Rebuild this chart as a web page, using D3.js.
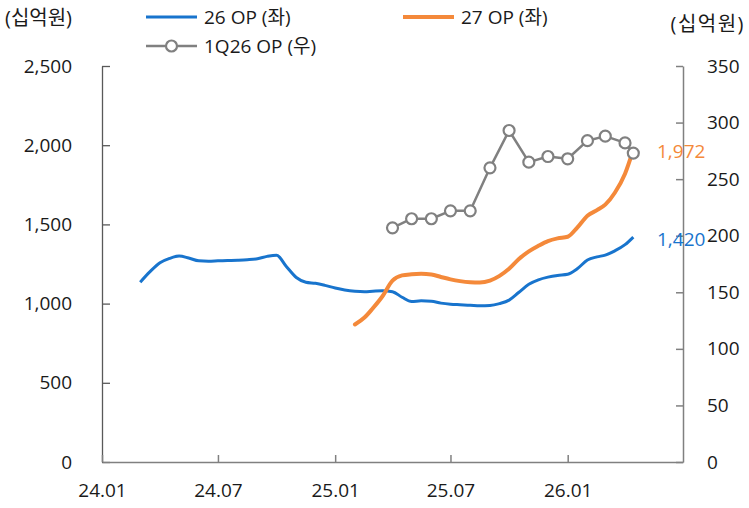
<!DOCTYPE html>
<html>
<head>
<meta charset="utf-8">
<script src="https://cdn.jsdelivr.net/npm/d3@7"></script>
<style>
  html, body { margin: 0; padding: 0; background: #fff; }
  svg { display: block; font-family: "Open Sans", "Noto Sans CJK KR", sans-serif; }
</style>
</head>
<body>
<svg id="chart" width="749" height="508"></svg>
<script>
// Operating-profit consensus, KRW bn
const op26Dates = ["2024-03-01","2024-03-16","2024-04-01","2024-04-16","2024-05-01","2024-05-16","2024-06-01","2024-06-16",
  "2024-07-01","2024-07-16","2024-08-01","2024-08-16","2024-09-01","2024-09-16","2024-10-01","2024-10-16",
  "2024-11-01","2024-11-16","2024-12-01","2024-12-16","2025-01-01","2025-01-16","2025-02-01","2025-02-16",
  "2025-03-01","2025-03-16","2025-04-01","2025-04-16","2025-05-01","2025-05-16","2025-06-01","2025-06-16",
  "2025-07-01","2025-07-16","2025-08-01","2025-08-16","2025-09-01","2025-09-16","2025-10-01","2025-10-16",
  "2025-11-01","2025-11-16","2025-12-01","2025-12-16","2026-01-01","2026-01-16","2026-02-01","2026-02-16",
  "2026-03-01","2026-03-16","2026-04-01","2026-04-14"];
const op26Values = [1135,1200,1258,1285,1300,1288,1270,1268,
  1270,1272,1274,1277,1283,1298,1306,1236,
  1165,1135,1128,1115,1098,1086,1078,1075,
  1078,1081,1075,1040,1013,1018,1015,1003,
  996,993,990,986,988,1000,1022,1070,
  1122,1150,1167,1178,1185,1220,1275,1295,
  1306,1333,1372,1420];

const op27Dates = ["2025-02-01","2025-02-16","2025-03-01","2025-03-16","2025-04-01","2025-04-16","2025-05-01","2025-05-16",
  "2025-06-01","2025-06-16","2025-07-01","2025-07-16","2025-08-01","2025-08-16","2025-09-01","2025-09-16",
  "2025-10-01","2025-10-16","2025-11-01","2025-11-16","2025-12-01","2025-12-16","2026-01-01","2026-01-16",
  "2026-02-01","2026-02-16","2026-03-01","2026-03-16","2026-04-01","2026-04-14"];
const op27Values = [868,912,970,1045,1145,1178,1185,1188,
  1184,1168,1153,1142,1135,1133,1145,1175,
  1220,1280,1330,1365,1395,1412,1422,1480,
  1555,1590,1625,1700,1820,1972];

const q126Dates = ["2025-04-01","2025-05-01","2025-06-01","2025-07-01","2025-08-01","2025-09-01","2025-10-01",
  "2025-11-01","2025-12-01","2026-01-01","2026-02-01","2026-03-01","2026-04-01","2026-04-14"];
const q126Values = [207,215,215,222,222,260,293,265,270,268,284,288,282,273];

const leftTicks = [0,500,1000,1500,2000,2500];
const rightTicks = [0,50,100,150,200,250,300,350];
const xTickDates = ["2024-01-01","2024-07-01","2025-01-01","2025-07-01","2026-01-01"];

const seriesNames = ["26 OP (좌)", "27 OP (좌)", "1Q26 OP (우)"];
const unitLabel = "(십억원)";

const BLUE = "#1874cd", ORANGE = "#f4893a", GRAY = "#808080", TEXT = "#1a1a1a";
const FONT = "'Open Sans', 'Noto Sans CJK KR', sans-serif";

const parse = d3.timeParse("%Y-%m-%d");
const svg = d3.select("#chart");

const plot = { left: 102, right: 683, top: 66, bottom: 462 };

const x = d3.scaleTime()
  .domain([parse("2024-01-01"), parse("2026-07-01")])
  .range([plot.left, plot.right]);
const yL = d3.scaleLinear().domain([0, 2500]).range([plot.bottom, plot.top]);
const yR = d3.scaleLinear().domain([0, 350]).range([plot.bottom, plot.top]);

const fontSize = 19;

function styleTicks(g, color, width) {
  g.select(".domain").attr("stroke", color).attr("stroke-width", width);
  g.selectAll(".tick line").attr("stroke", color).attr("stroke-width", width);
  g.selectAll(".tick text").attr("fill", TEXT).style("font-size", fontSize + "px")
    .style("font-family", FONT);
}

// Left axis (ticks point inward)
const gL = svg.append("g").attr("transform", `translate(${plot.left},0)`)
  .call(d3.axisLeft(yL).tickValues(leftTicks).tickSizeInner(-8).tickSizeOuter(0)
    .tickPadding(30).tickFormat(d3.format(",")));
styleTicks(gL, "#595959", 1.3);

// Right axis
const gR = svg.append("g").attr("transform", `translate(${plot.right},0)`)
  .call(d3.axisRight(yR).tickValues(rightTicks).tickSizeInner(-7).tickSizeOuter(0)
    .tickPadding(24));
styleTicks(gR, "#808080", 1.5);

// Bottom axis
const gX = svg.append("g").attr("transform", `translate(0,${plot.bottom})`)
  .call(d3.axisBottom(x).tickValues(xTickDates.map(parse)).tickSizeInner(-7).tickSizeOuter(0)
    .tickPadding(22).tickFormat(d3.timeFormat("%y.%m")));
styleTicks(gX, "#808080", 1.5);

// Lines
const toPts = (dates, vals) => dates.map((d, i) => ({ date: parse(d), v: vals[i] }));
const lineL = d3.line().x(d => x(d.date)).y(d => yL(d.v)).curve(d3.curveMonotoneX);
const lineR = d3.line().x(d => x(d.date)).y(d => yR(d.v));

const p26 = toPts(op26Dates, op26Values);
const p27 = toPts(op27Dates, op27Values);
const pq = toPts(q126Dates, q126Values);

svg.append("path").datum(p26).attr("d", lineL)
  .attr("fill", "none").attr("stroke", BLUE).attr("stroke-width", 3).attr("stroke-linejoin", "round");
svg.append("path").datum(p27).attr("d", lineL)
  .attr("fill", "none").attr("stroke", ORANGE).attr("stroke-width", 4).attr("stroke-linejoin", "round")
  .attr("stroke-linecap", "round");
svg.append("path").datum(pq).attr("d", lineR)
  .attr("fill", "none").attr("stroke", GRAY).attr("stroke-width", 2.5).attr("stroke-linejoin", "round");
svg.append("g").selectAll("circle").data(pq).join("circle")
  .attr("cx", d => x(d.date)).attr("cy", d => yR(d.v)).attr("r", 5.5)
  .attr("fill", "#fff").attr("stroke", GRAY).attr("stroke-width", 2.2);

// End value labels
const last26 = p26[p26.length - 1], last27 = p27[p27.length - 1];
svg.append("text").attr("x", 657).attr("y", yL(last27.v) + 2).attr("dy", "0.35em")
  .attr("fill", ORANGE).style("font-size", fontSize + "px").text(d3.format(",")(last27.v));
svg.append("text").attr("x", 657).attr("y", yL(last26.v) + 2).attr("dy", "0.35em")
  .attr("fill", BLUE).style("font-size", fontSize + "px").text(d3.format(",")(last26.v));

// Unit labels
svg.append("text").attr("x", 5).attr("y", 18).attr("dy", "0.35em")
  .attr("fill", TEXT).style("font-size", "20px").text(unitLabel);
svg.append("text").attr("x", 745).attr("y", 24).attr("dy", "0.35em").attr("text-anchor", "end")
  .attr("fill", TEXT).style("font-size", "20px").style("letter-spacing", "1.5px").text(unitLabel);

// Legend
const legend = [
  { name: seriesNames[0], color: BLUE, w: 3, x: 146, y: 17, marker: false },
  { name: seriesNames[1], color: ORANGE, w: 4, x: 403, y: 17, marker: false },
  { name: seriesNames[2], color: GRAY, w: 2.5, x: 146, y: 46, marker: true }
];
const lg = svg.append("g").selectAll("g").data(legend).join("g");
lg.append("line").attr("x1", d => d.x).attr("x2", d => d.x + 51).attr("y1", d => d.y).attr("y2", d => d.y)
  .attr("stroke", d => d.color).attr("stroke-width", d => d.w);
lg.filter(d => d.marker).append("circle").attr("cx", d => d.x + 25.5).attr("cy", d => d.y).attr("r", 5.5)
  .attr("fill", "#fff").attr("stroke", d => d.color).attr("stroke-width", 2.2);
lg.append("text").attr("x", d => d.x + 58).attr("y", d => d.y).attr("dy", "0.35em")
  .attr("fill", TEXT).style("font-size", fontSize + "px").text(d => d.name);
</script>
</body>
</html>
